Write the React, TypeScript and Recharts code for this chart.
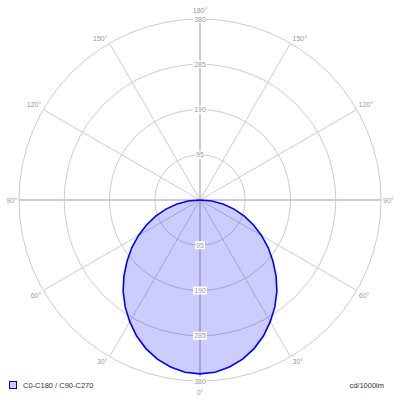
import React from 'react';
import {
  RadarChart,
  Radar,
  PolarGrid,
  PolarAngleAxis,
  PolarRadiusAxis,
  Legend,
} from 'recharts';

// gamma angle from nadir (deg), half of the curve, 5 deg steps
const halfGamma = [
  0, 5, 10, 15, 20, 25, 30, 35, 40, 45, 50, 55, 60, 65, 70, 75, 80, 85, 90,
  95, 100, 105, 110, 115, 120, 125, 130, 135, 140, 145, 150, 155, 160, 165, 170, 175, 180,
];
// luminous intensity, cd/1000lm (C0-C180 and C90-C270 coincide)
const halfIntensity = [
  365, 363, 356, 346, 332, 315, 295, 274, 251, 226, 200, 175, 149, 124, 99, 74, 49, 25, 0,
  0, 0, 0, 0, 0, 0, 0, 0, 0, 0, 0, 0, 0, 0, 0, 0, 0, 0,
];
const radiusTicks = [0, 95, 190, 285, 380];
const angleTicks = [0, 30, 60, 90, 120, 150, 180, 210, 240, 270, 300, 330];
const seriesName = 'C0-C180 / C90-C270';
const unitLabel = 'cd/1000lm';

const CX = 200;
const CY = 200;
const R = 181;
const FONT = '"Liberation Sans", Arial, sans-serif';
const GRID = '#cccccc';
const LABEL = '#9a9a9a';

// full circle: 0..180 then mirrored side 185..355
const data = [
  ...halfGamma.map((g, i) => ({ gamma: g, value: halfIntensity[i] })),
  ...halfGamma
    .slice(1, -1)
    .reverse()
    .map((g) => ({ gamma: 360 - g, value: halfIntensity[halfGamma.indexOf(g)] })),
];

const AngleTick = (props: any) => {
  const g = props.payload.value;
  const rad = (g * Math.PI) / 180;
  const ex = CX - Math.sin(rad) * R;
  const ey = CY + Math.cos(rad) * R;
  const s = Math.sin(rad);
  const c = Math.cos(rad);
  let anchor = 'middle';
  let x = ex;
  let y = ey;
  if (Math.abs(s) < 0.01) {
    y = ey + (c > 0 ? 11 : -9);
  } else {
    anchor = s > 0 ? 'end' : 'start';
    x = ex + (s > 0 ? -2 : 2);
    y = Math.abs(c) < 0.01 ? ey : ey + (c > 0 ? 5 : -5);
  }
  const label = (g <= 180 ? g : 360 - g) + '°';
  return (
    <text x={x} y={y} textAnchor={anchor} dominantBaseline="central" fontSize={7} fontFamily={FONT} fill={LABEL}>
      {label}
    </text>
  );
};

// radius labels on the upper axis, repeated on the lower half of the vertical line
const RadiusTick = (props: any) => {
  const v = props.payload.value;
  if (v === 0) return null;
  const w = String(v).length * 4 + 2;
  const ys = [props.y, 2 * CY - props.y];
  return (
    <g>
      {ys.map((y, i) => (
        <g key={i}>
          <rect x={props.x - w / 2} y={y - 4} width={w} height={8} fill="#ffffff" />
          <text x={props.x} y={y} textAnchor="middle" dominantBaseline="central" fontSize={7} fontFamily={FONT} fill={LABEL}>
            {v}
          </text>
        </g>
      ))}
    </g>
  );
};

const LegendContent = () => (
  <div style={{ position: 'relative', width: 400, height: 20, fontFamily: FONT, fontSize: 7.5, color: '#333' }}>
    <span
      style={{
        position: 'absolute',
        left: 9,
        top: 5,
        width: 6,
        height: 6,
        border: '1.5px solid #0000ff',
        background: '#ccccff',
      }}
    />
    <span style={{ position: 'absolute', left: 23, top: 0, lineHeight: '20px' }}>{seriesName}</span>
    <span style={{ position: 'absolute', right: 16, top: 0, lineHeight: '20px' }}>{unitLabel}</span>
  </div>
);

export default function App() {
  return (
    <div style={{ position: 'absolute', left: 0, top: 0, width: 400, height: 400, background: '#fff' }}>
      <RadarChart
        width={400}
        height={400}
        data={data}
        cx={CX}
        cy={CY}
        outerRadius={R}
        startAngle={-90}
        endAngle={-450}
        margin={{ top: 0, right: 0, bottom: 0, left: 0 }}
      >
        <PolarGrid gridType="circle" stroke={GRID} strokeWidth={1} />
        <PolarGrid gridType="circle" polarAngles={[0, 90, 180, 270]} polarRadius={[]} stroke={GRID} strokeWidth={2} />
        <PolarRadiusAxis
          angle={90}
          domain={[0, 380]}
          ticks={radiusTicks as any}
          tickCount={5}
          axisLine={false}
          tickLine={false}
          orientation="middle"
          tick={<RadiusTick />}
        />
        <Radar
          name={seriesName}
          dataKey="value"
          stroke="#0000ff"
          strokeWidth={1.6}
          fill="#0000ff"
          fillOpacity={0.2}
          dot={false}
          isAnimationActive={false}
        />
        <PolarAngleAxis
          dataKey="gamma"
          type="number"
          domain={[0, 360]}
          ticks={angleTicks as any}
          axisLine={false}
          tickLine={false}
          tickSize={0}
          tick={<AngleTick />}
        />
        <Legend content={<LegendContent />} wrapperStyle={{ left: 0, top: 376, width: 400, height: 20 }} />
      </RadarChart>
    </div>
  );
}
